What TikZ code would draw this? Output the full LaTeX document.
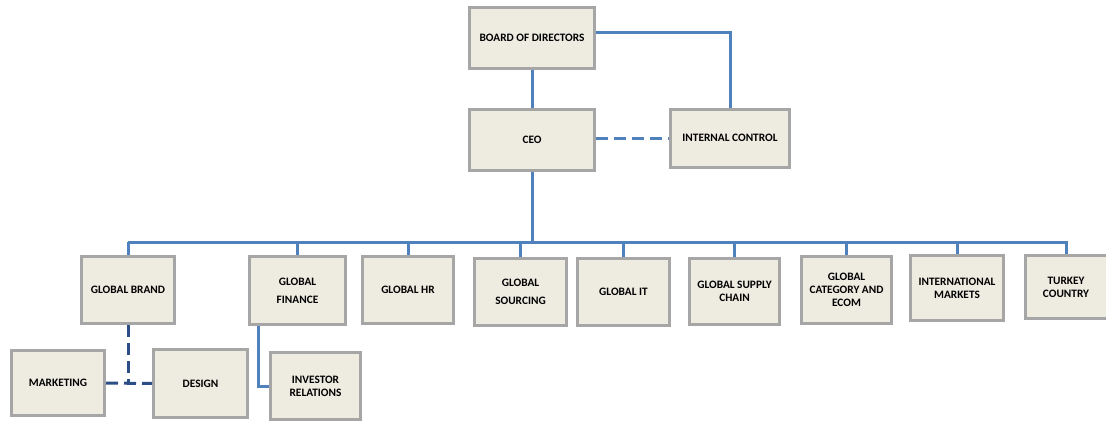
\documentclass[tikz,border=0pt]{standalone}
\usepackage{fontspec}
\setmainfont{Carlito}
\usepackage{xcolor}
\definecolor{linkblue}{HTML}{4F81BD}
\definecolor{darkblue}{HTML}{2B4E86}
\definecolor{boxfill}{HTML}{EEECE1}
\definecolor{boxline}{HTML}{A6A6A6}

\begin{document}
\begin{tikzpicture}[x=0.75pt, y=-0.75pt,
    unit/.style={fill=boxfill, draw=boxline, line width=2.25pt, inner sep=1pt, align=center, font=\fontsize{8.5}{9.8}\selectfont\bfseries},
    sz/.style 2 args={minimum width=#1*0.75pt, minimum height=#2*0.75pt},
    link/.style={draw=linkblue, line width=2.25pt},
    dashlink/.style={link, dash pattern=on 9pt off 4.5pt}]
            \useasboundingbox (0,0) rectangle (1106,422);

            \node[unit, sz={125}{61}] (bod) at (532,38) {BOARD OF DIRECTORS};
            \node[unit, sz={125}{61}] (ceo) at (532,140) {CEO};
            \node[unit, sz={119}{58}] (ic) at (730,138) {INTERNAL CONTROL};
            \node[unit, sz={93}{67}] (brand) at (128,290) {GLOBAL BRAND};
            \node[unit, sz={96}{68}] (fin) at (297.5,290.5) {GLOBAL\\[3.5pt]FINANCE};
            \node[unit, sz={91}{67}] (hr) at (408,290) {GLOBAL HR};
            \node[unit, sz={92}{67}] (src) at (520.5,292) {GLOBAL\\[3.5pt]SOURCING};
            \node[unit, sz={92}{67}] (it) at (623.5,292) {GLOBAL IT};
            \node[unit, sz={90}{66}] (sc) at (734.5,291.5) {GLOBAL SUPPLY\\CHAIN};
            \node[unit, sz={90}{67}] (cat) at (846.5,290) {GLOBAL\\CATEGORY AND\\ECOM};
            \node[unit, sz={93}{65}] (intl) at (957,288) {INTERNATIONAL\\MARKETS};
            \node[unit, sz={82}{63}] (tr) at (1066,287) {TURKEY\\COUNTRY};
            \node[unit, sz={93}{65}] (mkt) at (58,383) {MARKETING};
            \node[unit, sz={94}{68}] (des) at (200.5,383.5) {DESIGN};
            \node[unit, sz={90}{67}] (ir) at (315.5,386) {INVESTOR\\RELATIONS};

            \coordinate (busl) at (128,242);
            \coordinate (busr) at (1068,242);

            \draw[link] (bod) -- (ceo);
            \draw[link] ([yshift=4.5pt]bod.east) -| (ic);
            \draw[dashlink] (ceo.east |- ic) -- (ic.west);
            \draw[link] (ceo) -- (ceo.south |- busl);
            \draw[link] (busl) -- (busr);
            \foreach \d in {brand,fin,hr,src,it,sc,cat,intl,tr}
                \draw[link] (\d.north |- busl) -- (\d);
            \draw[dashlink, draw=darkblue] (brand) -- (brand.south |- des.west);
            \draw[dashlink, draw=darkblue] (mkt) -- (des);
            \draw[link] ([xshift=7.5pt]fin.south west) |- (ir);
        \end{tikzpicture}
\end{document}
